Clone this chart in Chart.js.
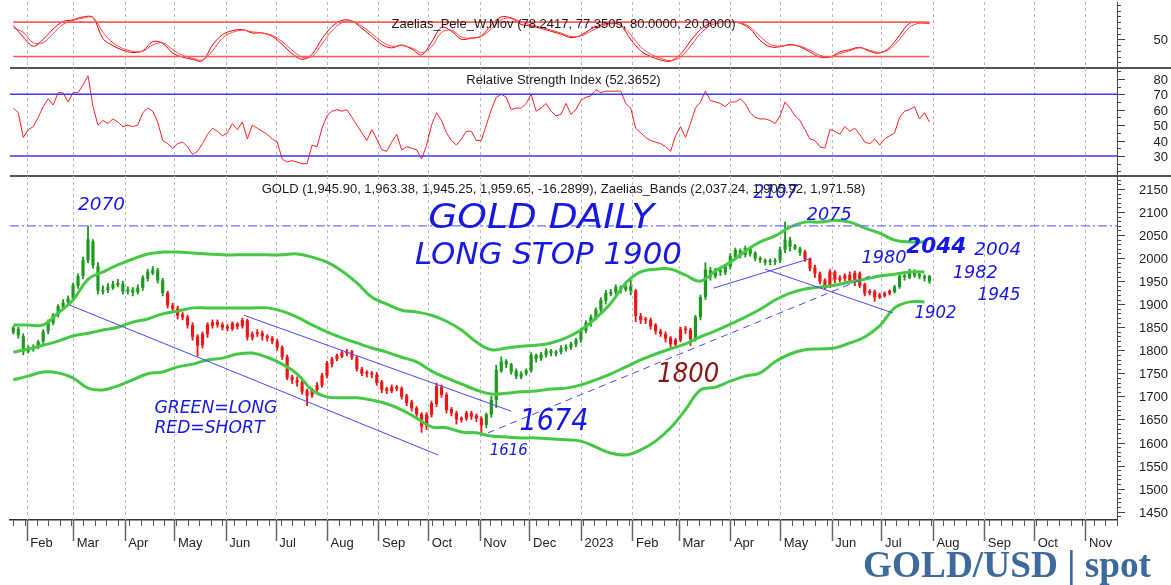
<!DOCTYPE html>
<html>
<head>
<meta charset="utf-8">
<script src="https://cdn.jsdelivr.net/npm/chart.js@4.4.0/dist/chart.umd.min.js"></script>
<style>
html, body { margin: 0; padding: 0; background: #fff; }
body { width: 1171px; height: 585px; position: relative; overflow: hidden; }
canvas { position: absolute; left: 0; }
#osc { top: 0; }
#rsi { top: 66px; }
#price { top: 170px; }
</style>
</head>
<body>
<canvas id="osc" width="1171" height="70"></canvas>
<canvas id="rsi" width="1171" height="112"></canvas>
<canvas id="price" width="1171" height="415"></canvas>
<script>
// ---- data ----
const axisFrom = '2022-01-22', axisTo = '2023-11-20';
const monthDates = ['2022-02-01','2022-03-01','2022-04-01','2022-05-01','2022-06-01','2022-07-01','2022-08-01',
  '2022-09-01','2022-10-01','2022-11-01','2022-12-01','2023-01-01','2023-02-01','2023-03-01','2023-04-01',
  '2023-05-01','2023-06-01','2023-07-01','2023-08-01','2023-09-01','2023-10-01','2023-11-01'];
const monthLabels = ['Feb','Mar','Apr','May','Jun','Jul','Aug','Sep','Oct','Nov','Dec','2023',
  'Feb','Mar','Apr','May','Jun','Jul','Aug','Sep','Oct','Nov'];

const priceTicks = [1450,1500,1550,1600,1650,1700,1750,1800,1850,1900,1950,2000,2050,2100,2150];
const rsiTicks = [30,40,50,60,70,80];
const oscTicks = [50];

// daily candles, one every 3 days from candleStart
const candleStart = '2022-01-24', candleStep = 3;
const open = [
1840,1846,1830,1798,1803,1808,1820,1842,1860,1878,
1894,1904,1913,1940,1962,1996,2035,1982,1928,1931,
1936,1942,1944,1929,1931,1927,1936,1956,1968,1973,
1951,1924,1897,1890,1877,1871,1854,1829,1812,1836,
1854,1861,1855,1851,1847,1857,1853,1864,1828,1836,
1837,1830,1826,1819,1806,1785,1742,1735,1730,1712,
1703,1715,1725,1746,1771,1782,1787,1794,1797,1784,
1759,1751,1749,1747,1731,1716,1712,1719,1717,1701,
1687,1674,1661,1636,1661,1684,1720,1703,1672,1663,
1650,1653,1663,1658,1652,1639,1661,1693,1756,1776,
1769,1755,1743,1750,1757,1789,1783,1790,1798,1794,
1797,1804,1807,1813,1823,1843,1860,1871,1888,1908,
1923,1927,1936,1932,1938,1929,1874,1867,1865,1854,
1841,1835,1827,1813,1823,1846,1843,1826,1873,1916,
1973,1961,1973,1969,1982,2003,2016,2008,2020,2011,
1999,1995,1992,1992,1995,2019,2038,2026,2020,2013,
1997,1979,1966,1951,1938,1969,1953,1956,1963,1951,
1966,1942,1925,1927,1916,1919,1924,1927,1938,1961,
1958,1971,1964,1960,1960];
const high = [
1852,1850,1836,1810,1812,1822,1845,1866,1880,1899,
1910,1918,1946,1966,2002,2070,2040,1990,1940,1945,
1950,1954,1950,1938,1936,1942,1962,1976,1982,1978,
1956,1928,1902,1896,1882,1876,1860,1834,1840,1860,
1866,1866,1860,1856,1862,1860,1870,1868,1840,1845,
1842,1834,1830,1824,1810,1790,1746,1742,1736,1716,
1718,1730,1750,1776,1785,1792,1800,1802,1800,1788,
1763,1756,1754,1752,1735,1720,1725,1724,1721,1705,
1692,1678,1665,1665,1690,1729,1725,1708,1676,1668,
1656,1668,1668,1662,1656,1664,1700,1768,1786,1780,
1772,1760,1754,1760,1795,1792,1796,1804,1802,1800,
1810,1812,1818,1826,1848,1864,1877,1892,1914,1930,
1932,1942,1940,1943,1952,1932,1880,1872,1870,1858,
1846,1840,1830,1826,1850,1852,1848,1876,1920,1990,
1980,1978,1976,1986,2010,2022,2020,2026,2024,2014,
2003,1998,1998,1999,2024,2078,2045,2030,2024,2017,
2000,1985,1970,1955,1975,1973,1962,1966,1970,1972,
1970,1946,1932,1931,1924,1927,1931,1941,1964,1966,
1976,1975,1968,1964,1963];
const low = [
1835,1826,1790,1794,1798,1803,1815,1836,1855,1872,
1888,1898,1908,1934,1955,1990,1978,1922,1922,1925,
1932,1938,1922,1922,1918,1922,1930,1950,1964,1946,
1918,1892,1885,1868,1866,1848,1822,1787,1805,1828,
1848,1850,1844,1842,1843,1846,1848,1822,1822,1830,
1822,1820,1814,1800,1780,1736,1728,1722,1705,1680,
1698,1708,1720,1740,1764,1777,1784,1788,1780,1755,
1745,1742,1740,1724,1708,1706,1708,1712,1694,1680,
1668,1656,1622,1628,1655,1678,1698,1664,1658,1640,
1644,1648,1650,1645,1616,1632,1655,1676,1752,1762,
1748,1738,1738,1746,1752,1774,1778,1785,1788,1788,
1792,1798,1802,1808,1817,1838,1852,1866,1882,1900,
1918,1922,1924,1928,1920,1862,1858,1858,1846,1835,
1830,1818,1806,1808,1818,1836,1810,1820,1866,1910,
1952,1956,1962,1964,1976,1996,2000,2002,2004,1994,
1990,1985,1985,1986,1990,2012,2015,2018,2006,1993,
1972,1958,1944,1932,1936,1946,1948,1950,1946,1940,
1936,1918,1920,1906,1912,1915,1920,1924,1934,1952,
1955,1958,1955,1950,1945];
const close = [
1848,1833,1798,1804,1806,1818,1840,1862,1876,1895,
1903,1912,1941,1960,1995,2040,1985,1930,1930,1937,
1943,1945,1928,1930,1926,1935,1957,1970,1974,1952,
1925,1898,1891,1876,1872,1855,1830,1811,1835,1855,
1860,1856,1850,1848,1858,1852,1865,1829,1835,1838,
1831,1827,1820,1807,1786,1741,1736,1731,1711,1702,
1714,1724,1745,1772,1781,1788,1795,1796,1785,1760,
1750,1750,1748,1730,1715,1713,1720,1718,1700,1686,
1675,1662,1635,1660,1685,1721,1704,1671,1664,1651,
1652,1664,1657,1653,1638,1660,1692,1757,1775,1770,
1754,1744,1749,1756,1790,1782,1791,1799,1795,1796,
1805,1806,1814,1822,1844,1859,1872,1887,1909,1924,
1926,1937,1931,1937,1930,1875,1866,1866,1853,1842,
1836,1826,1814,1822,1845,1844,1825,1872,1915,1974,
1960,1974,1970,1981,2004,2017,2007,2021,2010,2000,
1996,1991,1993,1994,2018,2039,2025,2021,2012,1998,
1978,1967,1950,1937,1970,1954,1957,1962,1952,1967,
1941,1924,1928,1915,1920,1923,1928,1937,1960,1959,
1972,1963,1961,1957,1950];
// RSI on the same dates as the candles
const rsi = [
61,58,42,47,49,55,62,67,63,71,
71,65,71,71,76,82,62,50,53,51,
54,52,49,50,49,50,58,61,59,52,
40,38,35,38,39,36,31,33,38,44,
48,46,43,45,51,47,52,41,50,48,
46,44,41,39,28,26,27,26,25,25,
37,36,48,56,59,60,59,60,55,50,
45,40,47,41,34,33,39,44,34,36,
35,34,28,37,50,58,53,45,40,37,
41,46,46,40,40,50,60,68,70,68,
60,61,61,64,70,59,61,64,59,56,
57,64,57,60,66,68,69,73,71,72,
72,72,72,64,61,48,45,42,40,39,
38,36,33,43,49,42,51,61,65,72,
66,65,64,62,65,65,67,64,58,55,
54,54,53,51,56,65,61,56,53,47,
41,40,36,35,47,46,44,49,46,48,
44,39,38,41,37,41,43,45,55,59,
60,62,54,58,52];
// signal: periods when the system was short (red candles)
const shortPeriods = [['2022-04-26','2022-11-03'], ['2023-02-02','2023-03-09'], ['2023-05-15','2023-07-07']];

// Zaelias_Pele_W.Mov, every 6 days
const oscStart = '2022-01-24', oscStep = 6;
const oscMain = [
74,54,38,50,68,81,84,89,88,51,39,31,27,30,46,43,26,19,15,12.5,
40,58,65,67,61,61,55,41,25,15,24,51,72,83,82,69,55,41,35,40,
33,23,45,71,64,50,52,56,75,89,87,76,73,69,64,59,53,57,68,75,
78,74,50,30,20,14,12,24,47,67,78,80,80,78,68,48,37,37,41,37,
28,19,19,28,32,36,29,26,36,57,78,79,78];
const oscSignal = [
70,62,44,44,60,76,83,87,88,62,44,34,29,29,40,44,32,22,17,14,
30,52,62,66,63,61,57,46,31,19,20,42,65,79,82,73,60,46,38,39,
35,27,37,62,66,54,52,55,68,84,87,80,75,71,66,61,55,56,64,72,
77,75,58,37,24,17,13,19,38,60,74,79,80,79,71,55,41,38,40,38,
31,22,19,25,30,35,31,27,33,50,71,78,77];
const oscLevels = [80, 20];
const rsiLevels = [70, 30];

// Zaelias_Bands, every 9 days
const bandStart = '2022-01-24', bandStep = 9;
const bandUpper = [
1855,1855,1855,1881,1909,1954,1970,1985,1998,2009,
2013,2013,2011,2009,2007,2007,2007,2007,2007,2009,
2002,1991,1972,1946,1915,1900,1887,1883,1876,1863,
1844,1818,1801,1805,1809,1811,1816,1827,1844,1870,
1902,1946,1970,1976,1976,1963,1950,1972,1991,2015,
2035,2048,2067,2078,2078,2082,2078,2065,2054,2039,
2035,2035];
const bandMid = [
1796,1803,1811,1820,1831,1837,1844,1850,1861,1868,
1879,1885,1892,1892,1892,1892,1892,1892,1885,1872,
1855,1840,1827,1816,1805,1796,1785,1775,1755,1740,
1727,1714,1705,1707,1710,1712,1716,1718,1725,1736,
1749,1764,1779,1792,1803,1814,1829,1842,1857,1872,
1889,1909,1924,1933,1937,1941,1948,1954,1961,1965,
1970,1970];
const bandLower = [
1736,1744,1753,1751,1740,1718,1714,1723,1736,1749,
1753,1764,1770,1779,1783,1792,1794,1785,1770,1749,
1714,1699,1697,1697,1692,1684,1671,1653,1634,1632,
1623,1621,1614,1612,1610,1610,1608,1606,1603,1590,
1577,1573,1584,1603,1632,1671,1714,1720,1733,1744,
1751,1775,1792,1801,1803,1805,1816,1829,1853,1892,
1905,1905];

// hand-drawn lines on the price panel
const stopLevel = 2070;
const trendLines = [
  { from: ['2022-02-27', 1898], to: ['2022-10-07', 1573] },
  { from: ['2022-06-12', 1876], to: ['2022-11-20', 1668] },
  { from: ['2022-11-06', 1621], to: ['2023-06-24', 1961], dash: true },
  { from: ['2023-03-22', 1935], to: ['2023-05-20', 2000] },
  { from: ['2023-04-22', 1976], to: ['2023-07-08', 1881] }
];
// hand-written notes: text, date, price (left baseline)
const notes = [
  { text: '2070', date: '2022-03-04', price: 2104, size: 17, w: 47 },
  { text: 'GOLD DAILY', date: '2022-10-01', price: 2065, size: 33, w: 226 },
  { text: 'LONG STOP 1900', date: '2022-09-23', price: 1987, size: 31, w: 267 },
  { text: '2107', date: '2023-04-15', price: 2130, size: 19, w: 44 },
  { text: '2075', date: '2023-05-17', price: 2082, size: 17, w: 45 },
  { text: '2044', date: '2023-07-16', price: 2011, size: 22, w: 60, bold: true },
  { text: '2004', date: '2023-08-26', price: 2006, size: 18, w: 47 },
  { text: '1980', date: '2023-06-19', price: 1989, size: 18, w: 45 },
  { text: '1982', date: '2023-08-13', price: 1957, size: 17, w: 45 },
  { text: '1945', date: '2023-08-28', price: 1909, size: 17, w: 43 },
  { text: '1902', date: '2023-07-21', price: 1870, size: 17, w: 42 },
  { text: '1674', date: '2022-11-25', price: 1627, size: 31, w: 69 },
  { text: '1616', date: '2022-11-07', price: 1573, size: 16, w: 38 },
  { text: '1800', date: '2023-02-16', price: 1731, size: 27, w: 62, color: '#8a1515' },
  { text: 'GREEN=LONG', date: '2022-04-19', price: 1664, size: 18, w: 123 },
  { text: 'RED=SHORT', date: '2022-04-19', price: 1621, size: 18, w: 110 }
];

// ---- helpers ----
const DAY0 = Date.UTC(2022, 0, 1);
function day(s) {
  const p = s.split('-').map(Number);
  return (Date.UTC(p[0], p[1] - 1, p[2]) - DAY0) / 86400000;
}
function grid(start, step, n) {
  const d0 = day(start);
  return Array.from({ length: n }, (_, i) => d0 + i * step);
}
const xMin = day(axisFrom), xMax = day(axisTo);
const cx = grid(candleStart, candleStep, close.length);
const ox = grid(oscStart, oscStep, oscMain.length);
const bx = grid(bandStart, bandStep, bandUpper.length);
const pts = (xs, ys) => xs.map((x, i) => ({ x: x, y: ys[i] }));
const isShort = d => shortPeriods.some(p => d >= day(p[0]) && d <= day(p[1]));

const GREEN = '#1c9a1c', RED = '#f01515', BAND = '#45c845', INK = '#1717e6';
const FONT = '"Liberation Sans", Arial, sans-serif';
const HAND = '"Liberation Sans Narrow", "DejaVu Sans Condensed", sans-serif';

Chart.defaults.font.family = FONT;
Chart.defaults.font.size = 13;
Chart.defaults.color = '#222';

function line(data, color, width, extra) {
  return Object.assign({ type: 'line', data: data, borderColor: color, borderWidth: width,
    pointRadius: 0, fill: false, tension: 0 }, extra || {});
}

const panelPlugin = {
  id: 'panel',
  beforeDatasetsDraw(chart) {
    const { ctx, chartArea: a, scales: { x } } = chart;
    ctx.save();
    ctx.strokeStyle = '#bcbcbc';
    ctx.lineWidth = 1;
    ctx.setLineDash([3, 3]);
    monthDates.forEach(m => {
      const px = Math.round(x.getPixelForValue(day(m))) + 0.5;
      ctx.beginPath(); ctx.moveTo(px, a.top); ctx.lineTo(px, a.bottom); ctx.stroke();
    });
    ctx.restore();
  },
  afterDraw(chart, args, o) {
    const { ctx, chartArea: a, scales: { x, y } } = chart;
    ctx.save();
    // right axis: minor and major ticks, labels
    ctx.strokeStyle = '#444';
    ctx.lineWidth = 1;
    for (let v = Math.ceil(y.min / o.minor) * o.minor; v <= y.max; v += o.minor) {
      const py = Math.round(y.getPixelForValue(v)) + 0.5;
      ctx.beginPath(); ctx.moveTo(a.right, py); ctx.lineTo(a.right + 4, py); ctx.stroke();
    }
    ctx.font = '13px ' + FONT;
    ctx.fillStyle = '#222';
    ctx.textAlign = 'right';
    ctx.textBaseline = 'middle';
    o.yTicks.forEach(v => {
      const py = Math.round(y.getPixelForValue(v)) + 0.5;
      ctx.beginPath(); ctx.moveTo(a.right, py); ctx.lineTo(a.right + 8, py); ctx.stroke();
      ctx.fillText(String(v), chart.width - 3, py + 1);
    });
    if (o.xTicks) {
      ctx.strokeStyle = '#555';
      for (let d = Math.ceil(xMin); d <= xMax; d++) {
        if ((d - 2) % 7 !== 0) continue;   // Mondays
        const px = Math.round(x.getPixelForValue(d)) + 0.5;
        ctx.beginPath(); ctx.moveTo(px, a.bottom); ctx.lineTo(px, a.bottom + 6); ctx.stroke();
      }
      ctx.strokeStyle = '#666';
      ctx.lineWidth = 1.5;
      monthDates.forEach(m => {
        const px = Math.round(x.getPixelForValue(day(m))) + 0.5;
        ctx.beginPath(); ctx.moveTo(px, a.bottom); ctx.lineTo(px, a.bottom + 21); ctx.stroke();
      });
    }
    if (o.separator) {
      ctx.strokeStyle = '#555';
      ctx.lineWidth = 2;
      ctx.beginPath(); ctx.moveTo(a.left, a.bottom); ctx.lineTo(chart.width, a.bottom); ctx.stroke();
    }
    if (o.notes) {
      o.notes.forEach(n => {
        ctx.save();
        ctx.font = (n.bold ? 'bold ' : '') + 'italic ' + n.size + 'px ' + HAND;
        ctx.fillStyle = n.color || INK;
        ctx.textAlign = 'left';
        ctx.textBaseline = 'alphabetic';
        const w = ctx.measureText(n.text).width;
        ctx.translate(x.getPixelForValue(day(n.date)), y.getPixelForValue(n.price));
        ctx.scale(n.w / w, 1);
        ctx.fillText(n.text, 0, 0);
        ctx.restore();
      });
    }
    ctx.font = '13px ' + FONT;
    ctx.fillStyle = '#1a1a1a';
    ctx.textAlign = 'center';
    ctx.textBaseline = 'middle';
    ctx.fillText(o.title, (a.left + a.right) / 2, a.top + o.titleY);
    if (o.brand) {
      ctx.font = 'bold 38px "Liberation Serif", "DejaVu Serif", serif';
      ctx.fillStyle = '#3d6a9c';
      ctx.textAlign = 'left';
      ctx.textBaseline = 'alphabetic';
      const w = ctx.measureText(o.brand).width;
      ctx.translate(chart.width - 308, chart.height - 8);
      ctx.scale(288 / w, 1);
      ctx.fillText(o.brand, 0, 0);
    }
    ctx.restore();
  }
};

function makeChart(id, cfg) {
  const showX = !!cfg.xLabels;
  return new Chart(document.getElementById(id), {
    type: 'bar',
    data: { datasets: cfg.datasets },
    plugins: [panelPlugin],
    options: {
      responsive: false,
      animation: false,
      events: [],
      layout: { padding: { left: 10, right: 0, top: cfg.top, bottom: cfg.bottom } },
      plugins: {
        legend: { display: false },
        tooltip: { enabled: false },
        panel: Object.assign({ yTicks: cfg.yTicks }, cfg.panel)
      },
      scales: {
        x: {
          type: 'linear', min: xMin, max: xMax, offset: false, display: showX,
          grid: { display: false, offset: false },
          border: { display: showX, color: '#333', width: 1.5 },
          afterBuildTicks: s => { s.ticks = monthDates.map(m => ({ value: day(m) })); },
          afterFit: s => { s.height = showX ? 65 : 0; },
          ticks: {
            align: 'start', padding: 8, autoSkip: false, maxRotation: 0, color: '#222',
            callback: v => ' ' + (monthLabels[monthDates.findIndex(m => day(m) === v)] || '')
          }
        },
        y: {
          type: 'linear', position: 'right', min: cfg.yMin, max: cfg.yMax,
          afterFit: s => { s.width = 54; },
          grid: { display: false },
          border: { display: true, color: '#444', width: 1 },
          ticks: { display: false, padding: 0 }
        }
      }
    }
  });
}

// ---- panel 1: oscillator ----
makeChart('osc', {
  top: 2, bottom: 2, yMin: 0, yMax: 115, yTicks: oscTicks,
  panel: { title: 'Zaelias_Pele_W.Mov (78.2417, 77.3505, 80.0000, 20.0000)', titleY: 22, minor: 10, separator: true },
  datasets: [
    ...oscLevels.map(v => line([{ x: ox[0], y: v }, { x: ox[ox.length - 1], y: v }], '#ff5a5a', 1.6)),
    line(pts(ox, oscSignal), '#ff4444', 1, { tension: 0.35 }),
    line(pts(ox, oscMain), '#e80000', 1, { tension: 0.35 })
  ]
});

// ---- panel 2: RSI ----
makeChart('rsi', {
  top: 2, bottom: 2, yMin: 17, yMax: 87, yTicks: rsiTicks,
  panel: { title: 'Relative Strength Index (52.3652)', titleY: 12, minor: 5, separator: true },
  datasets: [
    ...rsiLevels.map(v => line([{ x: xMin, y: v }, { x: xMax, y: v }], '#3838ff', 1.6)),
    line(pts(cx, rsi), '#ff2020', 1)
  ]
});

// ---- panel 3: price ----
const candleColor = c => isShort(cx[c.dataIndex]) ? RED : GREEN;
makeChart('price', {
  top: 6, bottom: 0, yMin: 1432, yMax: 2178, yTicks: priceTicks, xLabels: true,
  panel: {
    title: 'GOLD (1,945.90, 1,963.38, 1,945.25, 1,959.65, -16.2899), Zaelias_Bands (2,037.24, 1,905.92, 1,971.58)',
    titleY: 13, minor: 10, xTicks: true, notes: notes, brand: 'GOLD/USD | spot'
  },
  datasets: [
    { type: 'bar', order: 4, grouped: false, barThickness: 1.2, backgroundColor: candleColor,
      data: cx.map((x, i) => ({ x: x, y: [low[i], high[i]] })) },
    { type: 'bar', order: 3, grouped: false, barThickness: 2.5, minBarLength: 1, backgroundColor: candleColor,
      data: cx.map((x, i) => ({ x: x, y: [open[i], close[i]] })) },
    line(pts(bx, bandUpper), BAND, 3, { order: 2, tension: 0.4 }),
    line(pts(bx, bandMid), BAND, 3, { order: 2, tension: 0.4 }),
    line(pts(bx, bandLower), BAND, 3, { order: 2, tension: 0.4 }),
    line([{ x: xMin, y: stopLevel }, { x: xMax, y: stopLevel }], '#7373ff', 1.3, { order: 1, borderDash: [9, 3, 2, 3] }),
    ...trendLines.map(t => line([{ x: day(t.from[0]), y: t.from[1] }, { x: day(t.to[0]), y: t.to[1] }],
      '#4646ff', 1, { order: 1, borderDash: t.dash ? [7, 5] : [] }))
  ]
});
</script>
</body>
</html>
